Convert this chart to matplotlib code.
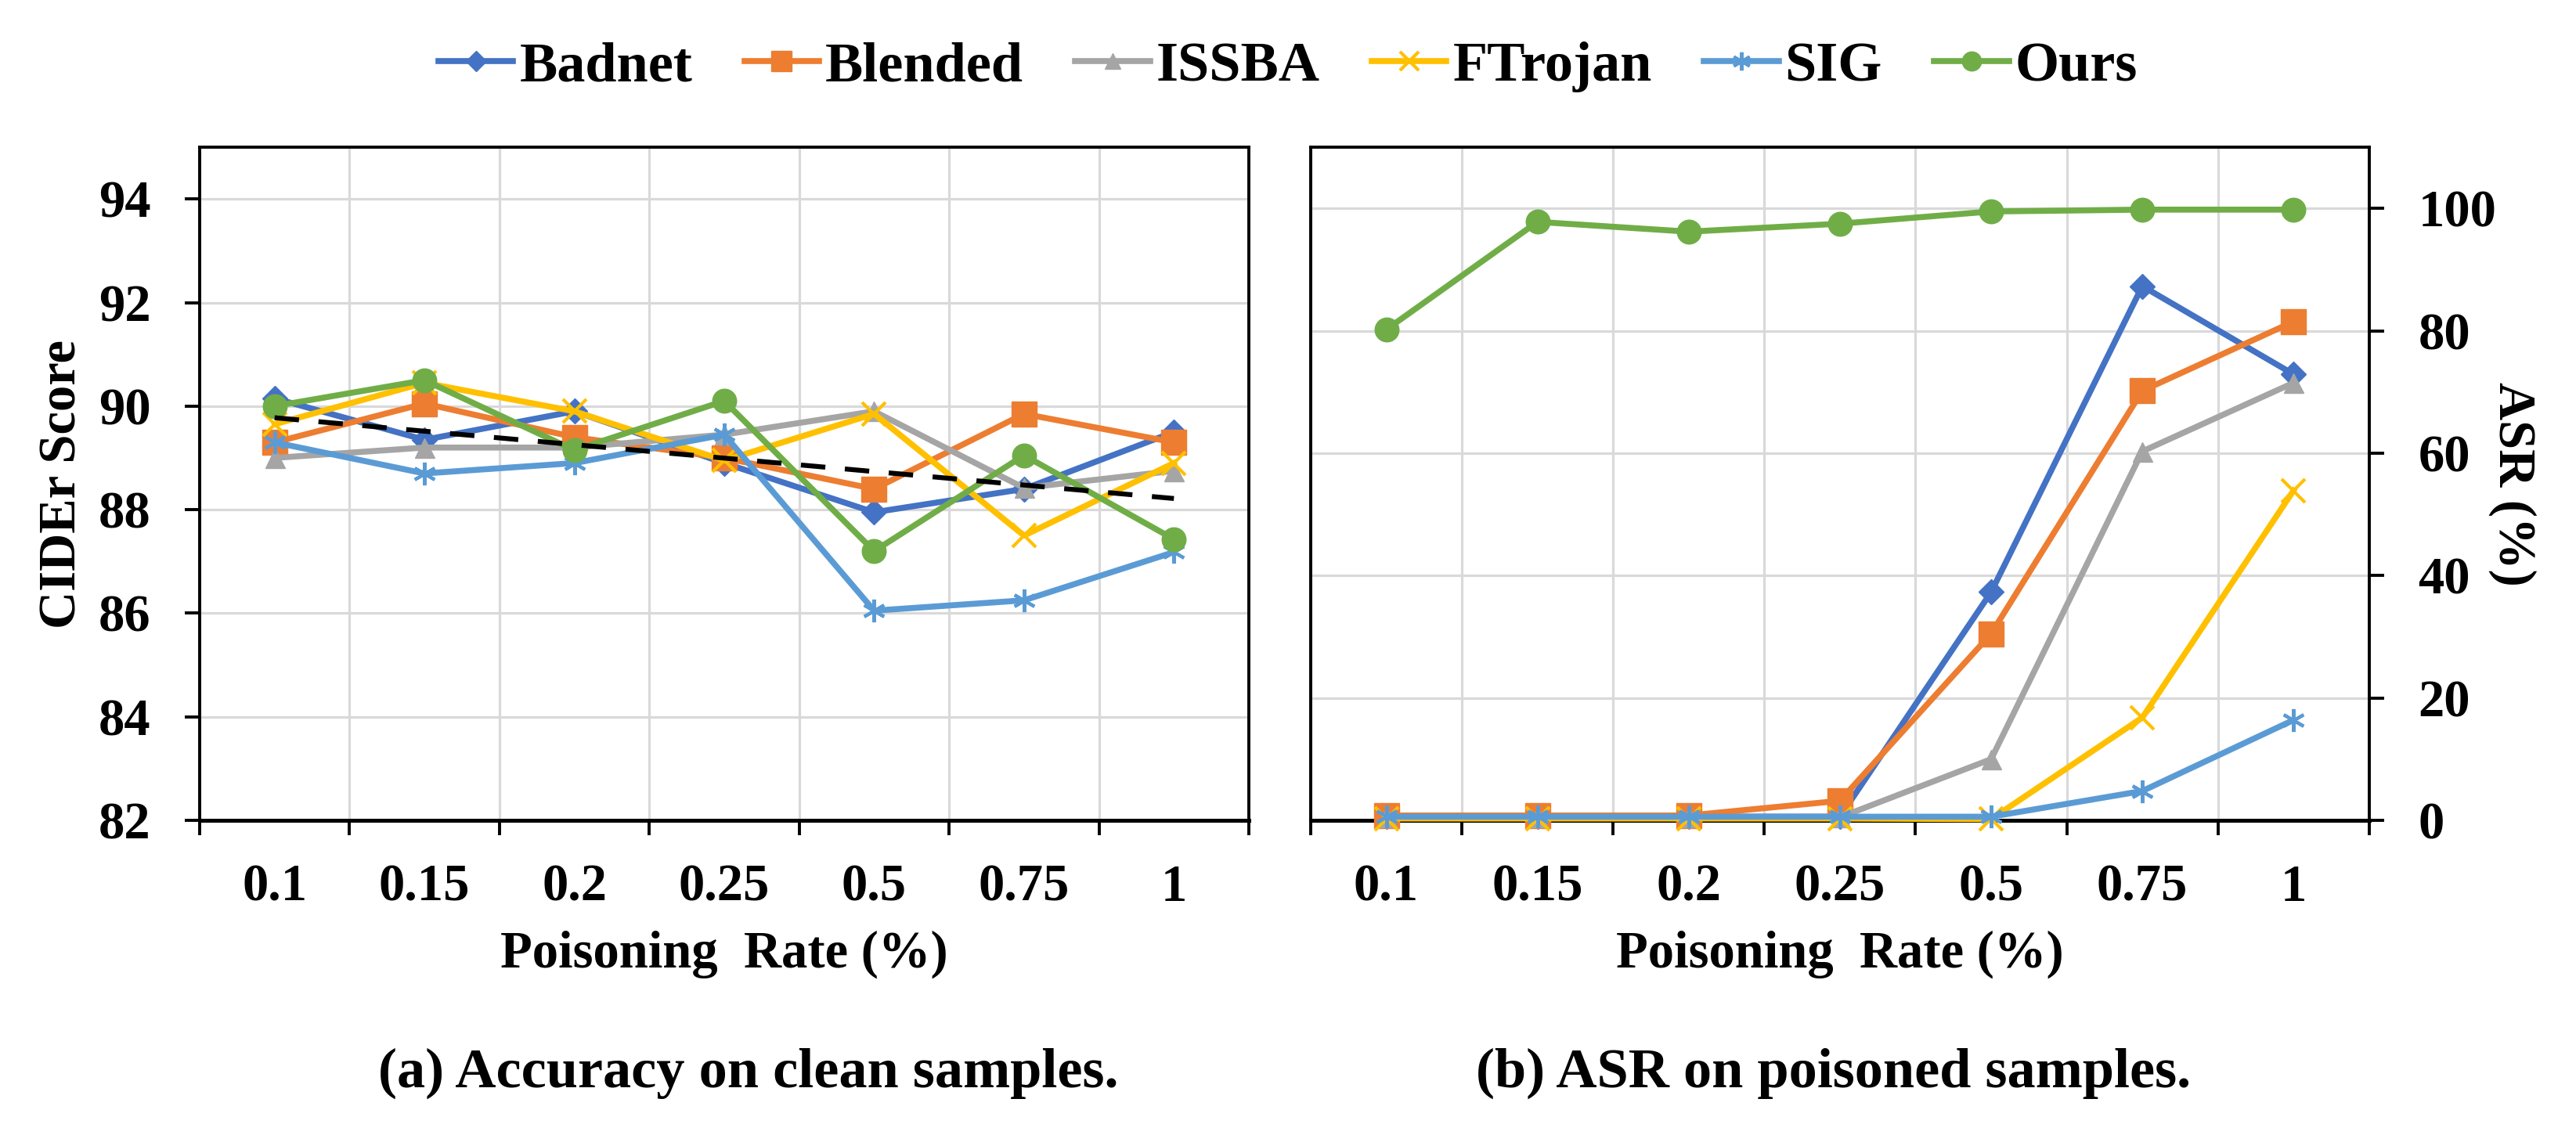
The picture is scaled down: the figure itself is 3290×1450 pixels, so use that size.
import matplotlib
matplotlib.use("Agg")
import matplotlib.pyplot as plt
import numpy as np

plt.rcParams['font.family'] = ['Liberation Serif', 'DejaVu Serif']
plt.rcParams['font.weight'] = 'bold'

rates = ['0.1', '0.15', '0.2', '0.25', '0.5', '0.75', '1']
methods = ['Badnet', 'Blended', 'ISSBA', 'FTrojan', 'SIG', 'Ours']

# CIDEr score on clean samples
cider_badnet = [90.15, 89.35, 89.9, 88.9, 87.95, 88.4, 89.5]
cider_blended = [89.3, 90.05, 89.4, 89.0, 88.4, 89.85, 89.3]
cider_issba = [89.0, 89.2, 89.2, 89.45, 89.9, 88.42, 88.75]
cider_ftrojan = [89.65, 90.45, 89.9, 88.95, 89.85, 87.5, 88.9]
cider_sig = [89.3, 88.7, 88.9, 89.45, 86.05, 86.25, 87.18]
cider_ours = [90.0, 90.5, 89.15, 90.1, 87.2, 89.05, 87.43]

# ASR on poisoned samples (%)
asr_badnet = [0.6, 0.6, 0.6, 0.6, 37.3, 87.3, 72.9]
asr_blended = [0.8, 0.8, 0.8, 3.2, 30.5, 70.2, 81.5]
asr_issba = [0.5, 0.5, 0.5, 0.5, 10.0, 60.3, 71.5]
asr_ftrojan = [0.3, 0.3, 0.3, 0.3, 0.2, 16.8, 53.9]
asr_sig = [0.6, 0.6, 0.6, 0.6, 0.6, 4.8, 16.4]
asr_ours = [80.2, 97.8, 96.2, 97.5, 99.5, 99.8, 99.8]

colors = ['#4472C4', '#ED7D31', '#A5A5A5', '#FFC000', '#5B9BD5', '#70AD47']
markers = ['D', 's', '^', 'x', (6, 2, 0), 'o']
msizes = [16, 23, 18, 21, 21, 22]
mew = [1, 1, 1, 3, 3, 1]

cider = [cider_badnet, cider_blended, cider_issba, cider_ftrojan, cider_sig, cider_ours]
asr = [asr_badnet, asr_blended, asr_issba, asr_ftrojan, asr_sig, asr_ours]

x = np.arange(len(rates))
FS = 48
grid_c = '#d9d9d9'


def style_axes(ax):
    ax.set_xlim(-0.5, len(rates) - 0.5)
    ax.set_xticks(x)
    ax.set_xticklabels(rates, fontsize=FS, fontweight='bold')
    ax.set_xticks(np.arange(-0.5, len(rates)), minor=True)
    ax.tick_params(axis='x', which='major', length=0, pad=40)
    ax.tick_params(axis='x', which='minor', length=14, width=2.8, direction='out')
    ax.tick_params(axis='y', which='major', length=14, width=2.8, direction='out',
                   pad=31, labelsize=FS)
    ax.grid(True, axis='y', which='major', color=grid_c, lw=2.3, zorder=0)
    ax.grid(True, axis='x', which='minor', color=grid_c, lw=2.3, zorder=0)
    ax.grid(False, axis='x', which='major')
    ax.set_axisbelow(True)
    for s in ax.spines.values():
        s.set_linewidth(2.8)
    ax.spines['bottom'].set_linewidth(3.6)
    for lbl in ax.get_yticklabels():
        lbl.set_fontweight('bold')
    ax.set_xlabel('Poisoning  Rate (%)', fontsize=FS, fontweight='bold', va='top')
    ax.xaxis.set_label_coords(0.5, -0.163)


fig = plt.figure(figsize=(32.9, 14.5), dpi=100)
ax1 = fig.add_axes([0.0775, 0.2772, 0.4073, 0.5931])
ax2 = fig.add_axes([0.5088, 0.2772, 0.4109, 0.5931])

# (a) clean accuracy
for i, name in enumerate(methods):
    ax1.plot(x, cider[i], color=colors[i], lw=5.5, marker=markers[i],
             ms=msizes[i], mew=mew[i], mec=colors[i], label=name,
             zorder=3 + i, clip_on=False)
# dashed linear trend of the average over all methods
mean_cider = np.mean(np.array(cider), axis=0)
k, b = np.polyfit(x, mean_cider, 1)
ax1.plot(x, k * x + b, color='black', lw=4.5, ls=(0, (5, 4)), zorder=10)

ax1.set_ylim(82, 95)
ax1.set_yticks(np.arange(82, 95, 2))
style_axes(ax1)
ax1.set_ylabel('CIDEr Score', fontsize=FS, fontweight='bold', va='center')
ax1.yaxis.set_label_coords(-0.1306, 0.5)

# (b) attack success rate
for i, name in enumerate(methods):
    ax2.plot(x, asr[i], color=colors[i], lw=5.5, marker=markers[i],
             ms=msizes[i], mew=mew[i], mec=colors[i], label=name,
             zorder=3 + i, clip_on=False)
ax2.set_ylim(0, 110)
ax2.set_yticks(np.arange(0, 101, 20))
ax2.yaxis.tick_right()
style_axes(ax2)
ax2.yaxis.set_label_position('right')
ax2.set_ylabel('ASR (%)', fontsize=FS, fontweight='bold', rotation=270, va='center')
ax2.yaxis.set_label_coords(1.135, 0.5)

handles, labels = ax1.get_legend_handles_labels()
fig.legend(handles[:6], labels[:6], loc='center', bbox_to_anchor=(0.5, 0.941),
           ncol=6, frameon=False, prop={'size': 52, 'weight': 'bold'},
           handlelength=1.32, handletextpad=0.11, columnspacing=0.92,
           markerscale=0.8)

fig.text(0.2906, 0.054, '(a) Accuracy on clean samples.', fontsize=52,
         fontweight='bold', ha='center', va='center')
fig.text(0.7116, 0.054, '(b) ASR on poisoned samples.', fontsize=52,
         fontweight='bold', ha='center', va='center')

fig.savefig('out.png', dpi=100)
